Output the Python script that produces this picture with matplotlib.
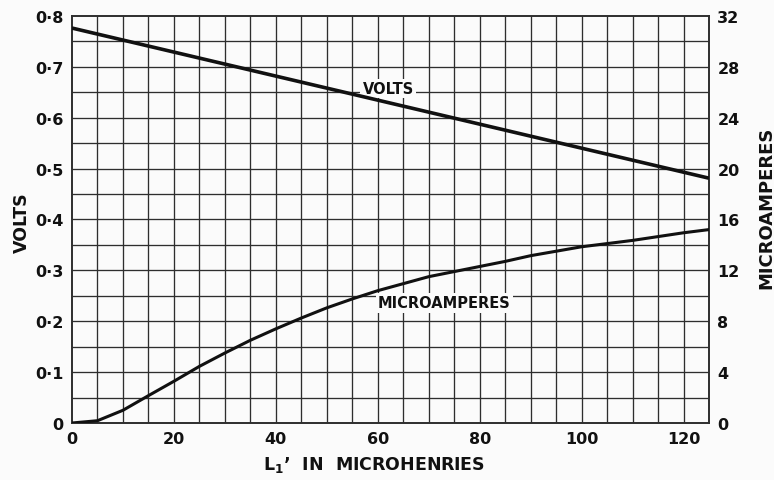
import matplotlib
matplotlib.use("Agg")
import matplotlib.pyplot as plt
import numpy as np

# Inductance L1' in microhenries
inductance = [0, 5, 10, 15, 20, 25, 30, 35, 40, 45, 50, 55, 60, 65, 70,
              75, 80, 85, 90, 95, 100, 105, 110, 115, 120, 125]
# Current in microamperes
microamps = [0, 0.18, 1.0, 2.15, 3.28, 4.45, 5.5, 6.5, 7.4, 8.25, 9.05,
             9.75, 10.4, 10.95, 11.5, 11.9, 12.3, 12.7, 13.15, 13.5, 13.85,
             14.1, 14.35, 14.65, 14.95, 15.2]
# Voltage
volt_x = [0, 25, 50, 75, 100, 125]
volts = [0.776, 0.717, 0.658, 0.599, 0.540, 0.481]

x_ticks = [0, 20, 40, 60, 80, 100, 120]
volt_ticks = [0, 0.1, 0.2, 0.3, 0.4, 0.5, 0.6, 0.7, 0.8]
volt_labels = ["0", "0·1", "0·2", "0·3", "0·4", "0·5", "0·6", "0·7", "0·8"]
amp_ticks = [0, 4, 8, 12, 16, 20, 24, 28, 32]

plt.rcParams['font.family'] = ['DejaVu Sans']
bg = "#fbfbfb"
ink = "#111111"
grid_c = "#2e2e2e"

fig = plt.figure(figsize=(7.74, 4.81), dpi=100, facecolor=bg)
ax = fig.add_axes([0.093, 0.1185, 0.823, 0.8465])
ax.set_facecolor(bg)
ax.set_xlim(0, 125)
ax.set_ylim(0, 0.8)

# graph-paper grid
for gx in np.arange(5, 125, 5):
    ax.axvline(gx, color=grid_c, lw=0.95, zorder=1)
for gy in np.arange(0.05, 0.8, 0.05):
    ax.axhline(gy, color=grid_c, lw=0.95, zorder=1)
for s in ax.spines.values():
    s.set_color(grid_c)
    s.set_linewidth(1.4)

ax.plot(volt_x, volts, color=ink, lw=2.6, zorder=3, solid_capstyle='butt')
ax.plot(inductance, [m / 40 for m in microamps], color=ink, lw=2.2, zorder=3,
        solid_joinstyle='round')

# curve names, boxed so the grid is cleared behind them
ax.text(57, 0.657, "VOLTS", fontsize=10.5, fontweight='bold', color=ink,
        va='center', ha='left', zorder=2.5,
        bbox=dict(boxstyle='square,pad=0.15', fc=bg, ec='none'))
ax.text(60, 0.236, "MICROAMPERES", fontsize=10.5, fontweight='bold', color=ink,
        va='center', ha='left', zorder=2.5,
        bbox=dict(boxstyle='square,pad=0.15', fc=bg, ec='none'))

ax.set_xticks(x_ticks)
ax.set_xticklabels([str(t) for t in x_ticks])
ax.set_yticks(volt_ticks)
ax.set_yticklabels(volt_labels)
ax.tick_params(length=0, labelsize=11.5, colors=ink, pad=6)
for lab in ax.get_xticklabels() + ax.get_yticklabels():
    lab.set_fontweight('bold')

ax2 = ax.twinx()
ax2.set_ylim(0, 32)
ax2.set_yticks(amp_ticks)
ax2.set_yticklabels([str(t) for t in amp_ticks])
ax2.tick_params(length=0, labelsize=11.5, colors=ink, pad=6)
for lab in ax2.get_yticklabels():
    lab.set_fontweight('bold')
for s in ax2.spines.values():
    s.set_visible(False)

fig.text(0.028, 0.538, "VOLTS", rotation=90, fontsize=12.5, fontweight='bold',
         color=ink, ha='center', va='center')
fig.text(0.99, 0.567, "MICROAMPERES", rotation=90, fontsize=13,
         fontweight='bold', color=ink, ha='center', va='center')
fig.text(0.483, 0.033, "L$_\\mathbf{1}$\u02bc  IN  MICROHENRIES", fontsize=12.5,
         fontweight='bold', color=ink, ha='center', va='center')

fig.savefig("out.png", dpi=100, facecolor=bg)
